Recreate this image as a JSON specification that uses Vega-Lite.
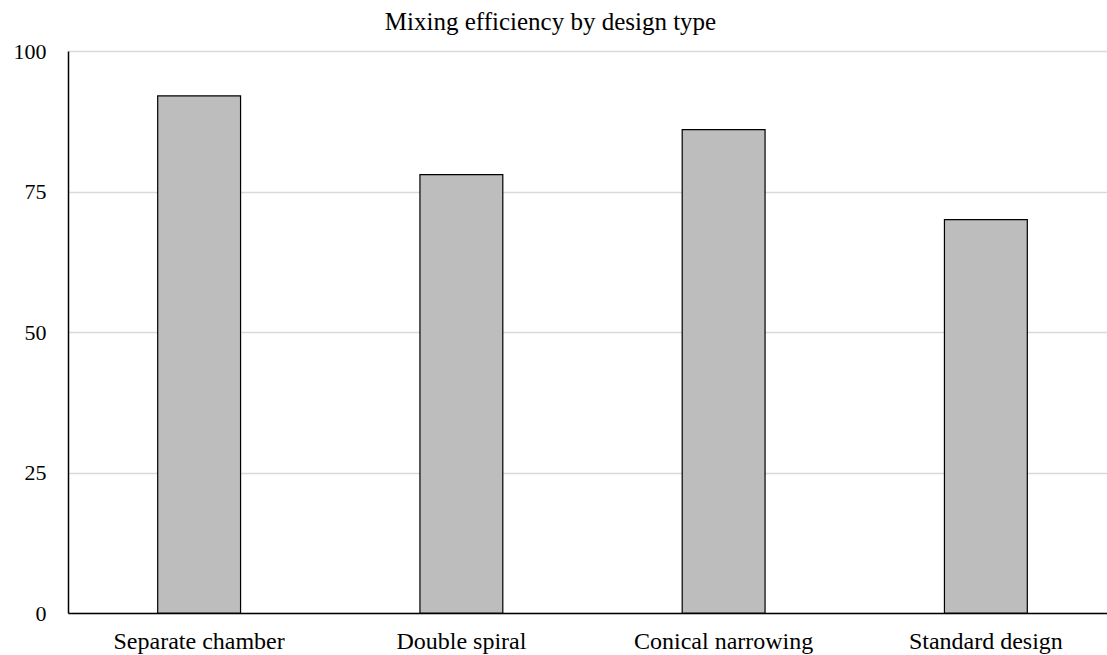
{
  "$schema": "https://vega.github.io/schema/vega-lite/v6.json",
  "autosize": "none",
  "width": 1049,
  "height": 562,
  "padding": {"left": 68, "top": 51, "right": 0, "bottom": 42},
  "background": "white",
  "title": {
    "text": "Mixing efficiency by design type",
    "font": "Liberation Serif",
    "fontSize": 25,
    "fontWeight": "normal",
    "color": "#000000",
    "anchor": "middle",
    "dx": -42,
    "offset": 5
  },
  "data": {
    "values": [
      {"design": "Separate chamber", "efficiency": 92},
      {"design": "Double spiral", "efficiency": 78},
      {"design": "Conical narrowing", "efficiency": 86},
      {"design": "Standard design", "efficiency": 70}
    ]
  },
  "mark": {"type": "bar", "fill": "#bdbdbd", "stroke": "#000000", "strokeWidth": 1.2},
  "encoding": {
    "x": {
      "field": "design",
      "type": "nominal",
      "sort": null,
      "scale": {"paddingInner": 0.684, "paddingOuter": 0.342},
      "axis": {
        "title": null,
        "labelAngle": 0,
        "labelFont": "Liberation Serif",
        "labelFontSize": 24,
        "labelColor": "#000000",
        "labelPadding": 16,
        "ticks": false,
        "domainColor": "#000000",
        "domainWidth": 1.5,
        "grid": false
      }
    },
    "y": {
      "field": "efficiency",
      "type": "quantitative",
      "scale": {"domain": [0, 100], "nice": false},
      "axis": {
        "title": null,
        "values": [0, 25, 50, 75, 100],
        "labelFont": "Liberation Serif",
        "labelFontSize": 22,
        "labelColor": "#000000",
        "labelPadding": 22,
        "ticks": false,
        "domainColor": "#000000",
        "domainWidth": 1.5,
        "gridColor": "#d9d9d9",
        "gridWidth": 1.5
      }
    }
  },
  "config": {"view": {"stroke": null}}
}
